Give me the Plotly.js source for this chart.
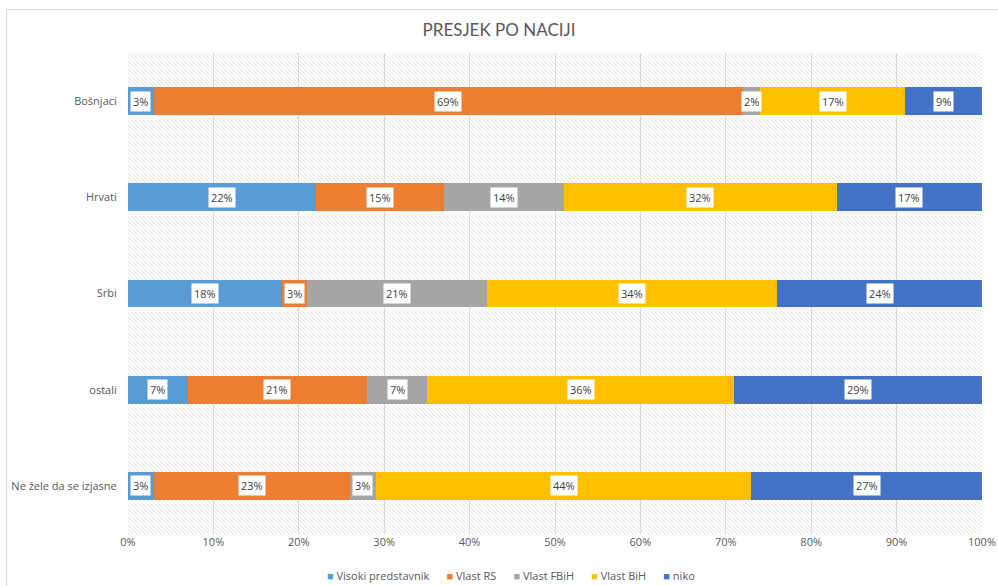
<!DOCTYPE html>
<html>
<head>
<meta charset="utf-8">
<script src="https://cdn.plot.ly/plotly-3.0.1.min.js"></script>
<style>
  html, body { margin: 0; padding: 0; background: #ffffff; }
  #wrap { position: relative; width: 998px; height: 586px; overflow: hidden; background: #ffffff; }
  #frame { position: absolute; left: 6px; top: 9px; width: 1000px; height: 600px; border: 1px solid #d9d9d9; box-sizing: border-box; }
  #hatch { position: absolute; left: 128px; top: 53px; width: 854px; height: 481px;
    background-color: #ffffff;
    background-image: url("data:image/svg+xml;utf8,<svg xmlns='http://www.w3.org/2000/svg' width='4' height='4'><path d='M-1,-1 L5,5 M-1,3 L1,5 M3,-1 L5,1' stroke='%23e4e4e4' stroke-width='1'/></svg>");
    background-size: 4px 4px; }
  #chart { position: absolute; left: 0; top: 0; width: 998px; height: 586px; }
</style>
</head>
<body>
<div id="wrap">
  <div id="frame"></div>
  <div id="hatch"></div>
  <div id="chart"></div>
</div>
<script>
const categories = ["Bošnjaci", "Hrvati", "Srbi", "ostali", "Ne žele da se izjasne"];
const seriesNames = ["Visoki predstavnik", "Vlast RS", "Vlast FBiH", "Vlast BiH", "niko"];
const visokiPredstavnik = [3, 22, 18, 7, 3];
const vlastRS = [69, 15, 3, 21, 23];
const vlastFBiH = [2, 14, 21, 7, 3];
const vlastBiH = [17, 32, 34, 36, 44];
const niko = [9, 17, 24, 29, 27];
const colors = ["#5B9BD5", "#ED7D31", "#A5A5A5", "#FFC000", "#4472C4"];
const xTicks = [0, 10, 20, 30, 40, 50, 60, 70, 80, 90, 100];

const allSeries = [visokiPredstavnik, vlastRS, vlastFBiH, vlastBiH, niko];

const traces = allSeries.map((vals, i) => ({
  type: "bar",
  orientation: "h",
  name: seriesNames[i],
  y: categories,
  x: vals,
  marker: { color: colors[i] },
  hoverinfo: "name+x"
}));

const annotations = [];
const cum = categories.map(() => 0);
allSeries.forEach((vals) => {
  vals.forEach((v, j) => {
    annotations.push({
      x: cum[j] + v / 2,
      y: categories[j],
      xref: "x", yref: "y",
      text: v + "%",
      showarrow: false,
      bgcolor: "#ffffff",
      borderpad: 2,
      font: { family: "Open Sans, Liberation Sans, sans-serif", size: 11, color: "#404040" }
    });
    cum[j] += v;
  });
});

// Compact legend (square marker + name), built from series names and colours
const legendText = seriesNames.map((n, i) =>
  '<span style="color:' + colors[i] + '">\u25A0</span>\u00a0' + n
).join('\u00a0\u00a0\u00a0\u00a0\u00a0\u00a0');
annotations.push({
  xref: "paper", yref: "paper",
  x: 0.4485, xanchor: "center",
  y: -0.087, yanchor: "middle",
  text: legendText,
  showarrow: false,
  font: { family: "Open Sans, Liberation Sans, sans-serif", size: 11, color: "#595959" }
});

const layout = {
  width: 998,
  height: 586,
  barmode: "stack",
  bargap: 0.71,
  showlegend: false,
  paper_bgcolor: "rgba(0,0,0,0)",
  plot_bgcolor: "rgba(0,0,0,0)",
  margin: { l: 128, r: 16, t: 53, b: 52 },
  font: { family: "Open Sans, Liberation Sans, sans-serif", color: "#595959", size: 11 },
  title: {
    text: "PRESJEK PO NACIJI",
    x: 0.5, xanchor: "center",
    y: 0.948, yanchor: "middle",
    font: { family: "Lato, Liberation Sans, sans-serif", size: 17, color: "#595959" }
  },
  xaxis: {
    range: [0, 100],
    tickvals: xTicks,
    ticktext: xTicks.map(t => t + "%"),
    showgrid: true,
    gridcolor: "#d9d9d9",
    gridwidth: 1,
    zeroline: false,
    showline: false,
    ticks: "",
    tickfont: { size: 11, color: "#595959" }
  },
  yaxis: {
    type: "category",
    categoryorder: "array",
    categoryarray: categories,
    autorange: "reversed",
    showgrid: false,
    zeroline: false,
    ticks: "outside",
    ticklen: 8,
    tickcolor: "rgba(0,0,0,0)",
    tickfont: { size: 11, color: "#595959" }
  },
  annotations: annotations
};

Plotly.newPlot("chart", traces, layout, { displayModeBar: false, staticPlot: true });
</script>
</body>
</html>
